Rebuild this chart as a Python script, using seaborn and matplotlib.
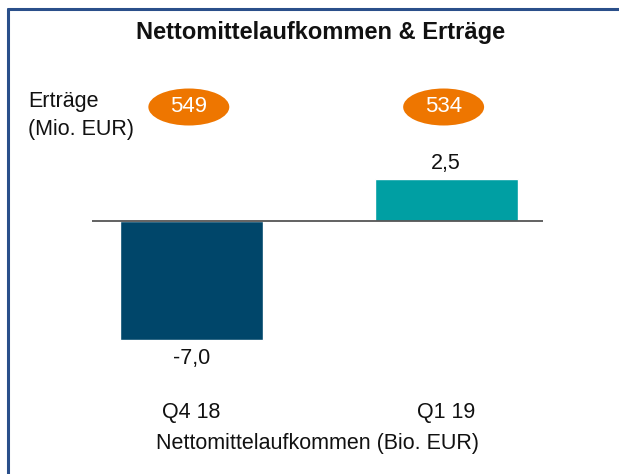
import matplotlib
matplotlib.use('Agg')
import matplotlib.pyplot as plt
import seaborn as sns
import pandas as pd
from matplotlib.patches import Ellipse
from matplotlib.lines import Line2D
from matplotlib.transforms import blended_transform_factory

# data
quarters = ['Q4 18', 'Q1 19']
net_flows = [-7.0, 2.5]          # Nettomittelaufkommen (Bio. EUR)
flow_labels = ['-7,0', '2,5']
revenues = ['549', '534']        # Erträge (Mio. EUR)
bar_colors = ['#00466a', '#009fa3']

sns.set_theme(style='white')
plt.rcParams['font.family'] = ['Liberation Sans', 'DejaVu Sans']

W, H = 619, 474
fig = plt.figure(figsize=(W / 100, H / 100), dpi=100)

# axes placed in pixel terms: x 92..543, y 150..395 (from top)
ax = fig.add_axes([92 / W, 1 - 395 / H, (543 - 92) / W, (395 - 150) / H])

df = pd.DataFrame({'quarter': quarters, 'flow': net_flows})
sns.barplot(data=df, x='quarter', y='flow', hue='quarter', palette=bar_colors,
            width=0.56, legend=False, saturation=1, ax=ax)

ax.set_xlim(-0.39, 1.38)
ax.set_ylim(-(395 - 221) / 17, (221 - 150) / 17)
ax.axhline(0, color='#555555', lw=1.3, zorder=3)
for s in ax.spines.values():
    s.set_visible(False)
ax.set_yticks([])
ax.set_ylabel('')
ax.set_xlabel('Nettomittelaufkommen (Bio. EUR)', fontsize=15.5, color='#111111', labelpad=7)
ax.tick_params(axis='x', length=0, pad=5, labelsize=15.5, labelcolor='#111111')
ax.set_facecolor('none')

# value labels
for i, (v, lab) in enumerate(zip(net_flows, flow_labels)):
    off = 11 if v > 0 else -13
    ax.annotate(lab, (i, v), xytext=(0, off), textcoords='offset points',
                ha='center', va='center', fontsize=15.5, color='#111111')

# revenue ellipses
tr = blended_transform_factory(ax.transData, fig.transFigure)
for i, r in enumerate(revenues):
    cy = 1 - 107 / H
    ax.add_patch(Ellipse((i - 0.01, cy), 81 / 255, 37 / H, transform=tr,
                         facecolor='#ee7600', edgecolor='none', clip_on=False))
    ax.text(i - 0.01, cy, r, transform=tr, ha='center', va='center',
            fontsize=16, color='white')

fig.text(28 / W, 1 - 101 / H, 'Erträge', ha='left', va='center', fontsize=15.5, color='#111111')
fig.text(28 / W, 1 - 129 / H, '(Mio. EUR)', ha='left', va='center', fontsize=15.5, color='#111111')

fig.text(321 / W, 1 - 33 / H, 'Nettomittelaufkommen & Erträge', ha='center', va='center',
         fontsize=17, fontweight='bold', color='#111111')

# frame
fig.add_artist(Line2D([7.5 / W, 7.5 / W], [0, 1 - 8.5 / H], color='#2a4f8a', lw=2.2))
fig.add_artist(Line2D([7.5 / W, 1], [1 - 8.5 / H, 1 - 8.5 / H], color='#2a4f8a', lw=2.2))

fig.savefig('out.png', dpi=100)
